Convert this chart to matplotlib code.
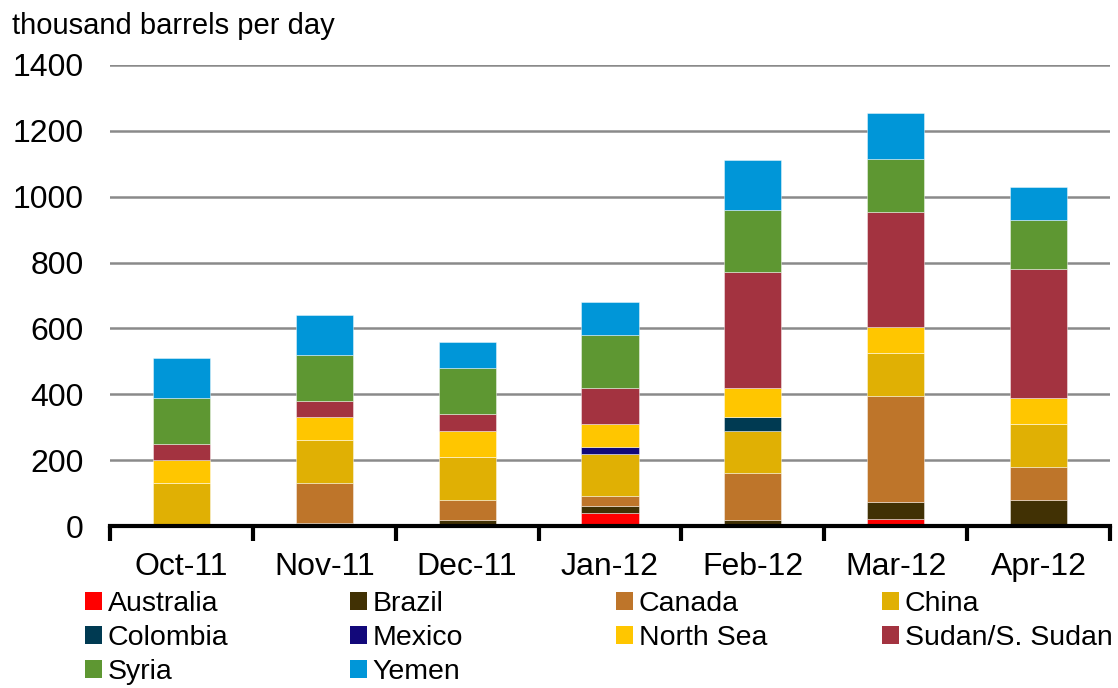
import matplotlib
matplotlib.use("Agg")
import matplotlib.pyplot as plt
import numpy as np
from matplotlib.patches import Patch

months = ["Oct-11", "Nov-11", "Dec-11", "Jan-12", "Feb-12", "Mar-12", "Apr-12"]

australia = [0, 0, 0, 38, 0, 22, 0]
brazil = [0, 8, 18, 22, 18, 50, 80]
canada = [0, 122, 62, 30, 142, 323, 100]
china = [130, 130, 130, 130, 130, 130, 130]
colombia = [0, 0, 0, 0, 40, 0, 0]
mexico = [0, 0, 0, 20, 0, 0, 0]
north_sea = [70, 70, 80, 70, 90, 80, 80]
sudan = [50, 50, 50, 110, 350, 350, 390]
syria = [140, 140, 140, 160, 190, 160, 150]
yemen = [120, 120, 80, 100, 150, 140, 100]

series_names = ["Australia", "Brazil", "Canada", "China", "Colombia", "Mexico",
                "North Sea", "Sudan/S. Sudan", "Syria", "Yemen"]
series_values = [australia, brazil, canada, china, colombia, mexico,
                 north_sea, sudan, syria, yemen]
colors = ["#FF0000", "#413104", "#BE752A", "#E0B004", "#003A52", "#12087A",
          "#FFC600", "#A33340", "#5E9732", "#0096D8"]

plt.rcParams['font.family'] = ['Liberation Sans', 'DejaVu Sans']
FS = 21
LFS = 20.5
TFS = 23

fig = plt.figure(figsize=(11.18, 6.88), dpi=100)
ax = fig.add_axes([110/1118, 1 - 526/688, 1000/1118, (526 - 65)/688])

x = np.arange(len(months))
bottom = np.zeros(len(months))
handles = []
for name, vals, c in zip(series_names, series_values, colors):
    v = np.array(vals, dtype=float)
    ax.bar(x, v, bottom=bottom, width=0.4, color=c, edgecolor=(1, 1, 1, 0.5),
           linewidth=0.6, zorder=3)
    bottom += v
    handles.append(Patch(facecolor=c, edgecolor='none'))

ax.set_xlim(-0.5, len(months) - 0.5)
ax.set_ylim(0, 1400)
ax.set_yticks(np.arange(0, 1401, 200))
ax.yaxis.grid(True, color='#8a8a8a', linewidth=1.8, zorder=0)
ax.set_axisbelow(True)
for s in ['left', 'right', 'top']:
    ax.spines[s].set_visible(False)
ax.spines['bottom'].set_linewidth(3)
ax.spines['bottom'].set_color('black')
ax.spines['bottom'].set_zorder(5)
ax.tick_params(axis='y', length=0, pad=19, labelsize=TFS)
ax.set_xticks(x)
ax.set_xticklabels(months, fontsize=TFS)
ax.tick_params(axis='x', length=0, pad=19)
ax.set_xticks(np.arange(-0.5, len(months)), minor=True)
ax.tick_params(axis='x', which='minor', length=11, width=3, direction='out', color='black')

fig.text(12/1118, 1 - 12/688, "thousand barrels per day", fontsize=FS, ha='left', va='top')

col_x = [85, 350, 616, 882]
for j in range(4):
    idx = [i for i in range(j, len(series_names), 4)]
    leg = fig.legend([handles[i] for i in idx], [series_names[i] for i in idx],
                     loc='upper left', bbox_to_anchor=(col_x[j]/1118, 1 - 591/688),
                     frameon=False, fontsize=LFS, handlelength=0.6, handleheight=0.6,
                     handletextpad=0.2, labelspacing=0.28, borderpad=0, borderaxespad=0)

fig.savefig("out.png", dpi=100)
